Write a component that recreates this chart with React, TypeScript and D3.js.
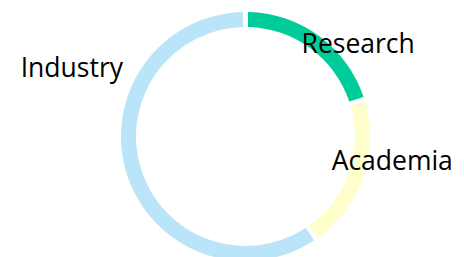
import React from "react";
import * as d3 from "d3";

const categories = ["Research", "Academia", "Industry"];
const values = [20, 20, 60];
const colors = ["#00CC99", "#FFFFCC", "#BAE4F8"];
// label placement in polar terms (angle in degrees clockwise from 12 o'clock, radius) and text anchor
const labelAngles = [51, 100, 291];
const labelRadii = [145, 149, 186];
const labelAnchors = ["middle", "middle", "middle"];

const W = 464;
const H = 257;
const cx = 245.5;
const cy = 136.5;
const outerR = 124.5;
const innerR = 109.5;

export default function App() {
  const pie = d3
    .pie<number>()
    .sort(null)
    .value((d) => d)
    .padAngle(0.03);
  const arcs = pie(values);
  const arc = d3
    .arc<d3.PieArcDatum<number>>()
    .innerRadius(innerR)
    .outerRadius(outerR);

  return (
    <svg
      width={W}
      height={H}
      style={{ position: "fixed", left: 0, top: 0 }}
      fontFamily="'Open Sans', sans-serif"
    >
      <rect width={W} height={H} fill="#ffffff" />
      <g transform={`translate(${cx},${cy})`}>
        {arcs.map((a, i) => (
          <path key={categories[i]} d={arc(a) || ""} fill={colors[i]} />
        ))}
        {categories.map((c, i) => {
          const ang = (labelAngles[i] * Math.PI) / 180;
          const x = labelRadii[i] * Math.sin(ang);
          const y = -labelRadii[i] * Math.cos(ang);
          return (
            <text
              key={c}
              x={x}
              y={y - 2.5}
              textAnchor={labelAnchors[i] as any}
              dominantBaseline="central"
              fontSize={26.5}
              fill="#000000"
            >
              {c}
            </text>
          );
        })}
      </g>
    </svg>
  );
}
